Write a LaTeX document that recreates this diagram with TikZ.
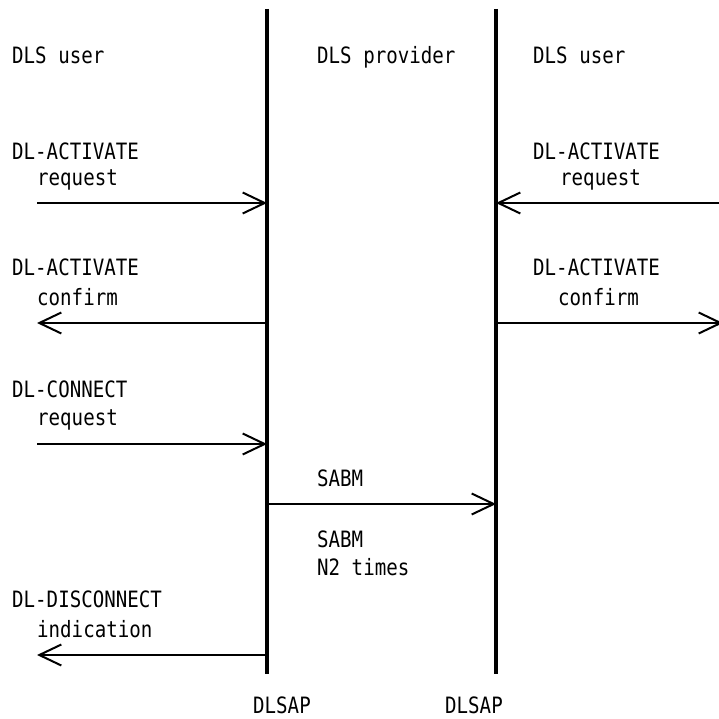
\documentclass[tikz,border=0pt]{standalone}
\usepackage{fontspec}
\usetikzlibrary{arrows.meta}
\newfontfamily\seqfont[FakeStretch=0.85]{DejaVu Sans Mono}
\begin{document}
\begin{tikzpicture}[x=1pt,y=-1pt,
  lbl/.style={anchor=base west,inner sep=0pt,font=\seqfont\fontsize{22.5}{26}\selectfont},
  sap/.style={line width=3.8pt},
  msg/.style={line width=2pt,-{Straight Barb[length=22pt,width=21pt,line width=2pt]}}]
\useasboundingbox (0,0) rectangle (719,719);
% service access points (lifelines)
\coordinate (sapAtop) at (267,9);
\coordinate (sapAbot) at (267,674);
\coordinate (sapBtop) at (496,9);
\coordinate (sapBbot) at (496,674);
\draw[sap] (sapAtop) -- (sapAbot);
\draw[sap] (sapBtop) -- (sapBbot);
% headings
\node[lbl] (userL) at (12,64) {DLS user};
\node[lbl] (prov) at (317,64) {DLS provider};
\node[lbl] (userR) at (533,64) {DLS user};
% DL-ACTIVATE request
\node[lbl] (actReqL1) at (12,160) {DL-ACTIVATE};
\node[lbl] (actReqL2) at (37,186) {request};
\node[lbl] (actReqR1) at (533,160) {DL-ACTIVATE};
\node[lbl] (actReqR2) at (560,186) {request};
\coordinate (actReqLs) at (37,203);
\coordinate (actReqLe) at (267,203);
\coordinate (actReqRs) at (719,203);
\coordinate (actReqRe) at (496,203);
\draw[msg] (actReqLs) -- (actReqLe);
\draw[msg] (actReqRs) -- (actReqRe);
% DL-ACTIVATE confirm
\node[lbl] (actConL1) at (12,275) {DL-ACTIVATE};
\node[lbl] (actConL2) at (37,305) {confirm};
\node[lbl] (actConR1) at (533,275) {DL-ACTIVATE};
\node[lbl] (actConR2) at (558,305) {confirm};
\coordinate (actConLs) at (267,323);
\coordinate (actConLe) at (37,323);
\coordinate (actConRs) at (496,323);
\coordinate (actConRe) at (723,323);
\draw[msg] (actConLs) -- (actConLe);
\draw[msg] (actConRs) -- (actConRe);
% DL-CONNECT request
\node[lbl] (conReq1) at (12,397) {DL-CONNECT};
\node[lbl] (conReq2) at (37,425) {request};
\coordinate (conReqs) at (37,444);
\coordinate (conReqe) at (267,444);
\draw[msg] (conReqs) -- (conReqe);
% SABM
\node[lbl] (sabm) at (317,486) {SABM};
\coordinate (sabms) at (267,504);
\coordinate (sabme) at (496,504);
\draw[msg] (sabms) -- (sabme);
\node[lbl] (sabmRep1) at (317,547) {SABM};
\node[lbl] (sabmRep2) at (317,575) {N2 times};
% DL-DISCONNECT indication
\node[lbl] (disInd1) at (12,607) {DL-DISCONNECT};
\node[lbl] (disInd2) at (37,637) {indication};
\coordinate (disInds) at (267,655);
\coordinate (disInde) at (37,655);
\draw[msg] (disInds) -- (disInde);
% SAP names
\node[lbl] (dlsapA) at (253,713) {DLSAP};
\node[lbl] (dlsapB) at (445,713) {DLSAP};
\end{tikzpicture}
\end{document}
